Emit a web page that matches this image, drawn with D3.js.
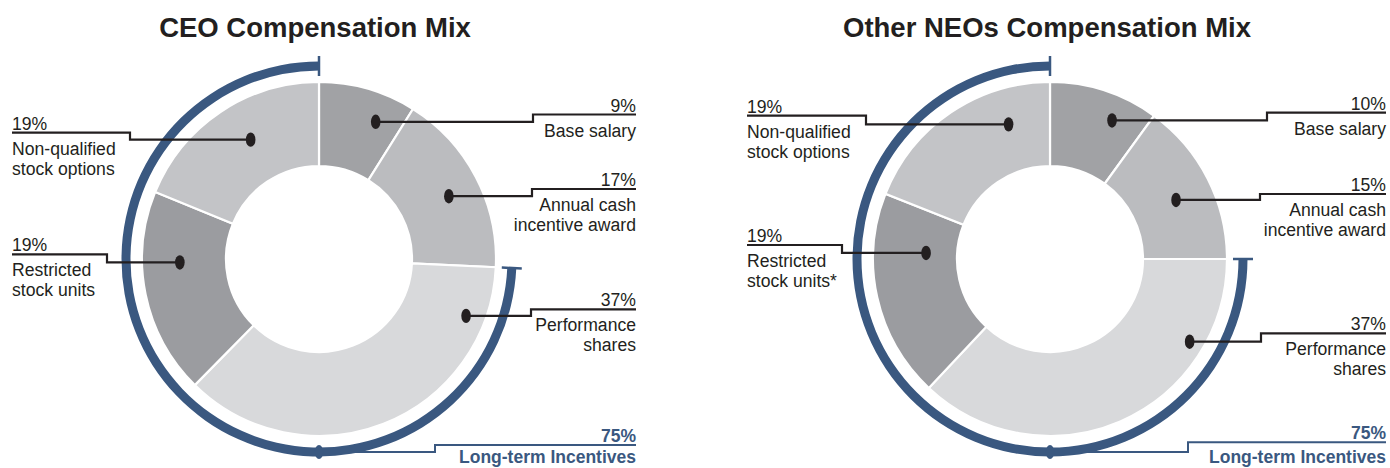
<!DOCTYPE html>
<html>
<head>
<meta charset="utf-8">
<script src="https://cdn.jsdelivr.net/npm/d3@7"></script>
<style>
  body { margin: 0; background: #fff; }
  svg { display: block; font-family: "Liberation Sans", Arial, Helvetica, sans-serif; }
  .lbl { font-size: 17.6px; fill: #231f20; }
  .title { font-size: 27.5px; font-weight: bold; fill: #231f20; }
  .lti { font-size: 17.5px; font-weight: bold; fill: #3a5880; }
</style>
</head>
<body>
<script>
// data
var titles = ["CEO Compensation Mix", "Other NEOs Compensation Mix"];
var categories = ["Base salary", "Annual cash incentive award", "Performance shares", "Restricted stock units", "Non-qualified stock options"];
var ceoValues = [9, 17, 37, 19, 19];
var neoValues = [10, 15, 37, 19, 19];
var ceoLabels = [["Base salary"], ["Annual cash", "incentive award"], ["Performance", "shares"], ["Restricted", "stock units"], ["Non-qualified", "stock options"]];
var neoLabels = [["Base salary"], ["Annual cash", "incentive award"], ["Performance", "shares"], ["Restricted", "stock units*"], ["Non-qualified", "stock options"]];
var ltiValues = [75, 75];
var ltiLabel = "Long-term Incentives";

var colors = ["#a1a2a5", "#bbbcbf", "#d8d9db", "#9b9ca0", "#c3c4c7"];
var blue = "#3a5880", ink = "#231f20";

// layout: f = position along slice, t = position across ring, ly = leader line y, sx = step x offset
var panels = [
  { cx: 319, cy: 259, titleX: 315, left: 12, right: 636, values: ceoValues, labels: ceoLabels,
    lead: [
      { f: 0.70, t: 0.66, ly: 114.5, sx: 214 },
      { f: 0.53, t: 0.61, ly: 189, sx: 213 },
      { f: 0.14, t: 0.77, ly: 309.3, sx: 212 },
      { f: 0.65, t: 0.55, ly: 254.3, sx: -212 },
      { f: 0.56, t: 0.53, ly: 132.7, sx: -189 }
    ],
    ltiLead: { ly: 445, sx: 116 } },
  { cx: 1050, cy: 259, titleX: 1047, left: 747, right: 1386, values: neoValues, labels: neoLabels,
    lead: [
      { f: 0.67, t: 0.70, ly: 112.7, sx: 217 },
      { f: 0.535, t: 0.55, ly: 194, sx: 210 },
      { f: 0.23, t: 0.825, ly: 333.3, sx: 211 },
      { f: 0.725, t: 0.37, ly: 245, sx: -208 },
      { f: 0.75, t: 0.57, ly: 115.7, sx: -184 }
    ],
    ltiLead: { ly: 442.3, sx: 138 } }
];

var rIn = 93, rOut = 177, rBand = 193;

var svg = d3.select("body").append("svg")
  .attr("width", 1390)
  .attr("height", 468);

var pie = d3.pie().sort(null).value(function(d) { return d; });
var arc = d3.arc().innerRadius(rIn).outerRadius(rOut);
var band = d3.arc().innerRadius(rBand - 4.5).outerRadius(rBand + 4.5);

function polar(cx, cy, a, r) {
  return [cx + r * Math.sin(a), cy - r * Math.cos(a)];
}

panels.forEach(function(p, pi) {
  var arcs = pie(p.values);

  svg.append("text")
    .attr("class", "title")
    .attr("x", p.titleX)
    .attr("y", 36.7)
    .attr("text-anchor", "middle")
    .text(titles[pi]);

  var g = svg.append("g").attr("transform", "translate(" + p.cx + "," + p.cy + ")");

  g.selectAll(".slice")
    .data(arcs)
    .enter().append("path")
    .attr("class", "slice")
    .attr("d", arc)
    .attr("fill", function(d, i) { return colors[i]; })
    .attr("stroke", "#fff")
    .attr("stroke-width", 2.2);

  // long-term incentives band: from end of annual cash round to top
  var ltiStart = arcs[1].endAngle, ltiEnd = 2 * Math.PI;
  g.append("path")
    .attr("d", band({ startAngle: ltiStart, endAngle: ltiEnd }))
    .attr("fill", blue);
  [ltiStart, ltiEnd].forEach(function(a) {
    var p0 = polar(0, 0, a, rBand - 10), p1 = polar(0, 0, a, rBand + 10);
    g.append("line")
      .attr("x1", p0[0]).attr("y1", p0[1])
      .attr("x2", p1[0]).attr("y2", p1[1])
      .attr("stroke", blue).attr("stroke-width", 2.5);
  });

  // slice leaders
  arcs.forEach(function(d, i) {
    var L = p.lead[i];
    var a = d.startAngle + L.f * (d.endAngle - d.startAngle);
    var r = rIn + L.t * (rOut - rIn);
    var dot = polar(p.cx, p.cy, a, r);
    var sx = p.cx + L.sx;
    var right = L.sx > 0;
    var ex = right ? p.right : p.left;

    svg.append("path")
      .attr("d", d3.line()([[dot[0], dot[1]], [sx, dot[1]], [sx, L.ly], [ex, L.ly]]))
      .attr("fill", "none")
      .attr("stroke", ink)
      .attr("stroke-width", 2.2);
    svg.append("ellipse")
      .attr("cx", dot[0]).attr("cy", dot[1])
      .attr("rx", 4.8).attr("ry", 7.2)
      .attr("fill", ink);

    var anchor = right ? "end" : "start";
    svg.append("text")
      .attr("class", "lbl")
      .attr("x", ex).attr("y", L.ly - 3)
      .attr("text-anchor", anchor)
      .text(d.data + "%");
    p.labels[i].forEach(function(line, k) {
      svg.append("text")
        .attr("class", "lbl")
        .attr("x", ex).attr("y", L.ly + 22 + k * 19.8)
        .attr("text-anchor", anchor)
        .text(line);
    });
  });

  // LTI leader from bottom of band
  var T = p.ltiLead;
  var bd = polar(p.cx, p.cy, Math.PI, rBand);
  var bx = p.cx + T.sx;
  svg.append("path")
    .attr("d", d3.line()([[bd[0], bd[1]], [bx, bd[1]], [bx, T.ly], [p.right, T.ly]]))
    .attr("fill", "none")
    .attr("stroke", blue)
    .attr("stroke-width", 2);
  svg.append("ellipse")
    .attr("cx", bd[0]).attr("cy", bd[1])
    .attr("rx", 4.2).attr("ry", 7)
    .attr("fill", blue);
  svg.append("text")
    .attr("class", "lti")
    .attr("x", p.right).attr("y", T.ly - 3.5)
    .attr("text-anchor", "end")
    .text(ltiValues[pi] + "%");
  svg.append("text")
    .attr("class", "lti")
    .attr("x", p.right).attr("y", 463)
    .attr("text-anchor", "end")
    .text(ltiLabel);
});
</script>
</body>
</html>
